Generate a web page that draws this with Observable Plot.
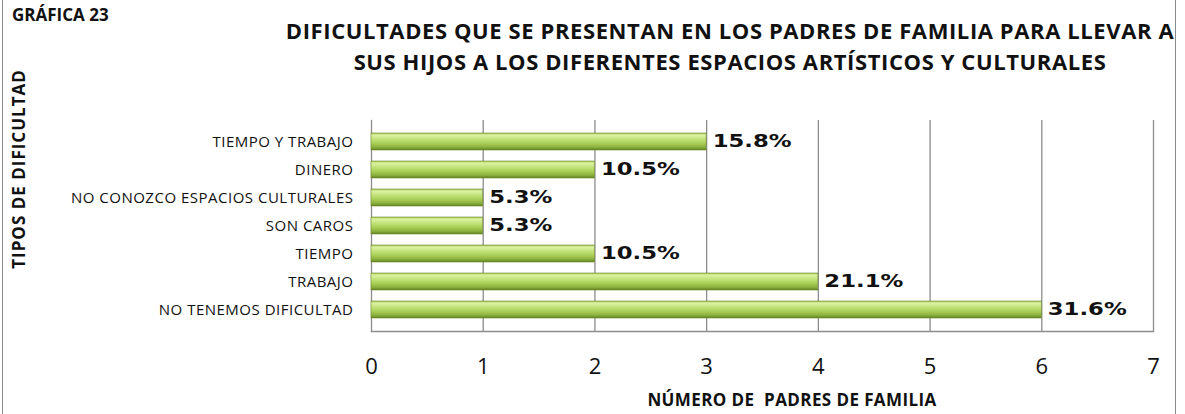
<!DOCTYPE html>
<html><head><meta charset="utf-8">
<script src="https://cdn.jsdelivr.net/npm/d3@7"></script>
<script src="https://cdn.jsdelivr.net/npm/@observablehq/plot@0.6"></script>
<style>
body{margin:0;background:#fff;font-family:"Open Sans",Lato,sans-serif;}
#wrap{position:relative;width:1185px;height:414px;overflow:hidden;}
#frame{position:absolute;left:2px;top:-2px;width:1172px;height:420px;border-left:1.5px solid #8a8a8a;border-right:1.5px solid #8a8a8a;}
.t{position:absolute;font-weight:bold;color:#111;white-space:pre;line-height:normal;}
#num{left:12px;top:3px;font-size:17px;}
#title{left:230px;width:1000px;top:15px;text-align:center;font-size:22px;line-height:31px;letter-spacing:0.6px;}
#ytitle{left:18px;top:169px;font-size:17px;letter-spacing:1px;transform:translate(-50%,-50%) rotate(-90deg);}
#xtitle{left:792px;top:388px;font-size:17px;letter-spacing:0.4px;transform:translateX(-50%);}
svg{position:absolute;left:0;top:0;}
</style></head><body>
<div id="wrap">
<div id="frame"></div>
<div class="t" id="num">GRÁFICA 23</div>
<div class="t" id="title">DIFICULTADES QUE SE PRESENTAN EN LOS PADRES DE FAMILIA PARA LLEVAR A
SUS HIJOS A LOS DIFERENTES ESPACIOS ARTÍSTICOS Y CULTURALES</div>
<div class="t" id="ytitle">TIPOS DE DIFICULTAD</div>
<div class="t" id="xtitle">NÚMERO DE  PADRES DE FAMILIA</div>
</div>
<script>
const categories = ["TIEMPO Y TRABAJO","DINERO","NO CONOZCO ESPACIOS CULTURALES","SON CAROS","TIEMPO","TRABAJO","NO TENEMOS DIFICULTAD"];
const values = [3,2,1,1,2,4,6];
const percents = ["15.8%","10.5%","5.3%","5.3%","10.5%","21.1%","31.6%"];
const xTicks = [0,1,2,3,4,5,6,7];

const data = categories.map((c,i)=>({cat:c, v:values[i], p:percents[i]}));

const chart = Plot.plot({
  width:1185, height:414,
  marginLeft:371, marginRight:32, marginTop:120, marginBottom:83,
  style:{background:"transparent", fontFamily:"'Open Sans', Lato, sans-serif"},
  x:{domain:[0,7], ticks:xTicks},
  y:{domain:categories, padding:0.4},
  marks:[
    Plot.ruleX(xTicks.slice(1), {stroke:"#8c8c8c", strokeWidth:1.3}),
    Plot.frame({anchor:"left", stroke:"#8c8c8c", strokeWidth:1.3}),
    Plot.frame({anchor:"bottom", stroke:"#8c8c8c", strokeWidth:1.3}),
    Plot.barX(data, {x:"v", y:"cat", fill:"url(#bargrad)", stroke:"#6f8d2c", strokeWidth:0.6}),
    Plot.text(data, {x:"v", y:"cat", text:"p", dx:6, dy:-1, textAnchor:"start", fill:"#111", fontSize:17.5, fontWeight:"bold", fontFamily:"'DejaVu Sans', sans-serif"}),
    Plot.axisX({ticks:xTicks, tickFormat:"d", tickSize:0, tickPadding:27, fontSize:22, fill:"#111", label:null}),
    Plot.axisY({tickSize:0, tickPadding:18, fontSize:15, fill:"#111", label:null})
  ]
});
const svg = d3.select(chart);
const defs = svg.insert("defs",":first-child");
const g = defs.append("linearGradient").attr("id","bargrad").attr("x1",0).attr("y1",0).attr("x2",0).attr("y2",1);
[[0,"#9fc24a"],[0.12,"#dcf2a4"],[0.35,"#c4e47c"],[0.6,"#aad058"],[0.85,"#88ad3a"],[1,"#5f7f24"]].forEach(([o,c])=>g.append("stop").attr("offset",o).attr("stop-color",c));
// widen the percent labels horizontally like the reference's extended font
svg.selectAll("text").each(function(){
  const s = this.textContent;
  if (percents.includes(s)) {
    const t = this.getAttribute("transform");
    if (t) this.setAttribute("transform", t + " scale(1.3,1)");
    else {
      const x = +this.getAttribute("x") || 0;
      this.setAttribute("transform", `translate(${x},0) scale(1.3,1) translate(${-x},0)`);
    }
  } else if (categories.includes(s)) {
    this.style.letterSpacing = "0.5px";
  }
});
document.getElementById("wrap").appendChild(chart);
</script>
</body></html>
